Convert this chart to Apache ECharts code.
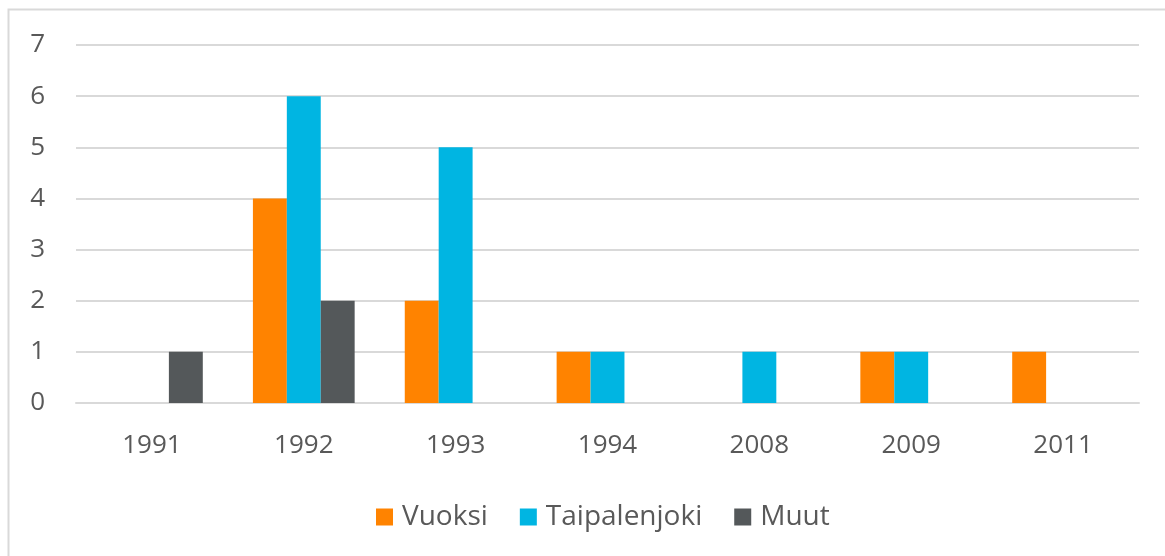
<!DOCTYPE html>
<html>
<head>
<meta charset="utf-8">
<script src="https://cdn.jsdelivr.net/npm/echarts@6/dist/echarts.min.js"></script>
<style>
  html, body { margin: 0; padding: 0; background: #fff; }
  #chart { width: 1165px; height: 556px; }
</style>
</head>
<body>
<div id="chart"></div>
<script>
const years = ['1991', '1992', '1993', '1994', '2008', '2009', '2011']
const vuoksi = [0, 4, 2, 1, 0, 1, 1]
const taipalenjoki = [0, 6, 5, 1, 1, 1, 0]
const muut = [1, 2, 0, 0, 0, 0, 0]

const textColor = '#595959'
const font = '"Open Sans", "Noto Sans", sans-serif'

const chart = echarts.init(document.getElementById('chart'))

function barSeries(name, data, color) {
  return {
    name,
    type: 'bar',
    data: data.map(v => (v === 0 ? null : v)),
    barGap: '0%',
    barCategoryGap: '33%',
    itemStyle: { color },
    animation: false
  }
}

chart.setOption({
  backgroundColor: '#fff',
  animation: false,
  textStyle: { fontFamily: font },
  graphic: [{
    type: 'rect',
    shape: { x: 8.5, y: 9.5, width: 1300, height: 700 },
    style: { fill: 'none', stroke: '#d9d9d9', lineWidth: 2 },
    silent: true
  }],
  grid: { left: 76, right: 26, top: 45, bottom: 153, containLabel: false },
  legend: {
    bottom: 20,
    left: 371,
    icon: 'rect',
    itemWidth: 17,
    itemHeight: 17,
    itemGap: 32,
    textStyle: { color: textColor, fontSize: 28, fontFamily: font, padding: [0, 0, 0, 4] },
    data: ['Vuoksi', 'Taipalenjoki', 'Muut']
  },
  xAxis: {
    type: 'category',
    data: years,
    axisLine: { lineStyle: { color: '#d9d9d9', width: 2 } },
    axisTick: { show: false },
    axisLabel: { color: textColor, fontSize: 26, fontFamily: font, margin: 30 }
  },
  yAxis: {
    type: 'value',
    min: 0,
    max: 7,
    interval: 1,
    axisLine: { show: false },
    axisTick: { show: false },
    splitLine: { lineStyle: { color: '#d9d9d9', width: 2 } },
    axisLabel: { color: textColor, fontSize: 26, fontFamily: font, margin: 31 }
  },
  series: [
    barSeries('Vuoksi', vuoksi, '#ff8300'),
    barSeries('Taipalenjoki', taipalenjoki, '#00b5e2'),
    barSeries('Muut', muut, '#54585a')
  ]
})
</script>
</body>
</html>
